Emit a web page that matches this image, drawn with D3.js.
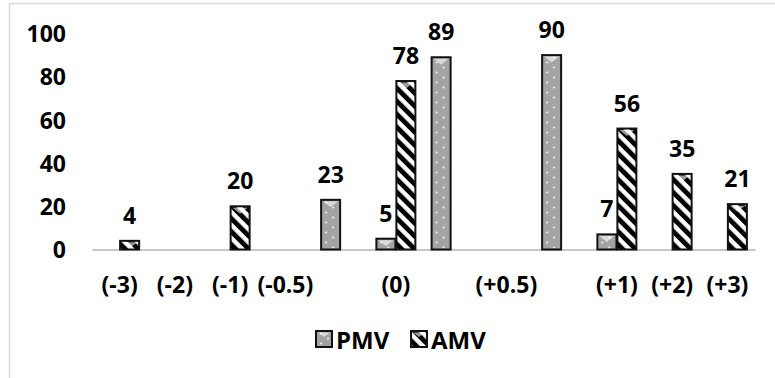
<!DOCTYPE html>
<html>
<head>
<meta charset="utf-8">
<script src="https://cdn.jsdelivr.net/npm/d3@7"></script>
<style>
  html, body { margin: 0; padding: 0; background: #fff; }
  svg { display: block; }
  text { font-family: "Open Sans", "Liberation Sans", sans-serif; font-weight: 700; fill: #000; }
</style>
</head>
<body>
<svg id="chart" width="775" height="378"></svg>
<script>
// Category slots along the axis (some slots carry no label)
const categories = ["(-3)", "(-2)", "(-1)", "(-0.5)", "", "(0)", "", "(+0.5)", "", "(+1)", "(+2)", "(+3)"];
const series = ["PMV", "AMV"];
// null = no bar in that slot
const pmvValues = [null, null, null, null, 23, 5, 89, null, 90, 7, null, null];
const amvValues = [4, null, 20, null, null, 78, null, null, null, 56, 35, 21];
const yTicks = [0, 20, 40, 60, 80, 100];

const svg = d3.select("#chart");
const W = 775, H = 378;
const FS = 23;

const defs = svg.append("defs");
// dotted grey fill
const dots = defs.append("pattern").attr("id", "pmvFill")
  .attr("patternUnits", "userSpaceOnUse").attr("width", 14).attr("height", 10);
dots.append("rect").attr("width", 14).attr("height", 10).attr("fill", "#a3a3a3");
dots.append("circle").attr("cx", 5).attr("cy", 2.5).attr("r", 1.1).attr("fill", "#f2f2f2");
dots.append("circle").attr("cx", 12).attr("cy", 7.5).attr("r", 1.1).attr("fill", "#f2f2f2");
// diagonal hatching
const hatch = defs.append("pattern").attr("id", "amvFill")
  .attr("patternUnits", "userSpaceOnUse").attr("width", 9.2).attr("height", 9.2)
  .attr("patternTransform", "rotate(-45)");
hatch.append("rect").attr("width", 9.2).attr("height", 9.2).attr("fill", "#fff");
hatch.append("rect").attr("width", 4.8).attr("height", 9.2).attr("fill", "#000");

const fills = { PMV: "url(#pmvFill)", AMV: "url(#amvFill)" };

// chart area frame
svg.append("rect").attr("x", 0).attr("y", 0).attr("width", W).attr("height", H).attr("fill", "#fff");
svg.append("rect").attr("x", 9.5).attr("y", 3.5).attr("width", W + 20).attr("height", H + 20)
  .attr("fill", "none").attr("stroke", "#d9d9d9").attr("stroke-width", 1.5);

const x = d3.scaleBand().domain(d3.range(categories.length)).range([92, 755]);
const x1 = d3.scaleBand().domain(series).range([0, x.bandwidth()])
  .paddingInner(0.05).paddingOuter(0.406);
const y = d3.scaleLinear().domain([0, 100]).range([249.5, 33.5]);

// y tick labels
const yAxis = d3.axisLeft(y).tickValues(yTicks).tickSize(0).tickPadding(0);
const gy = svg.append("g").attr("transform", "translate(66,0)").call(yAxis);
gy.select(".domain").remove();
gy.selectAll("text").attr("font-size", FS).attr("dy", "0.36em").attr("font-family", null);

// x axis
const xAxis = d3.axisBottom(x).tickFormat(i => categories[i]).tickSize(0).tickPadding(0);
const gx = svg.append("g").attr("transform", `translate(0,${y(0)})`).call(xAxis);
gx.select(".domain").attr("stroke", "#c8c8c8").attr("stroke-width", 2);
gx.selectAll("text").attr("font-size", FS).attr("y", 43).attr("dy", 0).attr("font-family", null);

// bars
const rows = [];
categories.forEach((c, i) => {
  if (pmvValues[i] != null) rows.push({ i, s: "PMV", v: pmvValues[i] });
  if (amvValues[i] != null) rows.push({ i, s: "AMV", v: amvValues[i] });
});

const bars = svg.append("g").selectAll("g").data(rows).join("g")
  .attr("transform", d => `translate(${x(d.i) + x1(d.s)},0)`);
bars.append("rect")
  .attr("x", 0).attr("width", x1.bandwidth())
  .attr("y", d => y(d.v)).attr("height", d => y(0) - y(d.v))
  .attr("fill", d => fills[d.s])
  .attr("stroke", "#111").attr("stroke-width", 2);
// bevel highlight on the top edge
bars.append("path")
  .attr("d", d => {
    const w = x1.bandwidth(), t = y(d.v) + 1.5;
    const h = Math.min(6, (y(0) - y(d.v)) - 2);
    return `M2,${t}L${w - 2},${t}L${w / 2},${t + h}Z`;
  })
  .attr("fill", "#fff").attr("opacity", 0.6);
// value labels
bars.append("text")
  .attr("x", x1.bandwidth() / 2).attr("y", d => y(d.v) - 17)
  .attr("text-anchor", "middle").attr("font-size", FS)
  .text(d => d.v);

// legend
const legend = svg.append("g");
const legendX = { PMV: 316, AMV: 411 };
series.forEach(s => {
  const g = legend.append("g").attr("transform", `translate(${legendX[s]},331)`);
  g.append("rect").attr("width", 16).attr("height", 16)
    .attr("fill", fills[s]).attr("stroke", "#111").attr("stroke-width", 2);
  g.append("path").attr("d", "M2,1.5L14,1.5L8,6Z").attr("fill", "#fff").attr("opacity", 0.6);
  g.append("text").attr("x", 20).attr("y", 17.5).attr("font-size", 24).text(s);
});
</script>
</body>
</html>
